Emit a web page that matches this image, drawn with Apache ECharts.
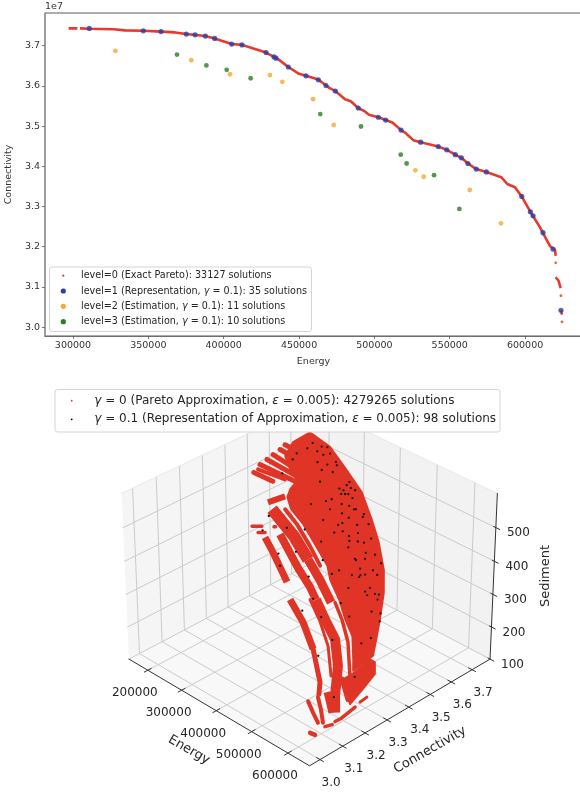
<!DOCTYPE html>
<html><head><meta charset="utf-8">
<style>html,body{margin:0;padding:0;background:#fff}#c{width:580px;height:793px}</style>
<script src="https://cdn.jsdelivr.net/npm/echarts@6/dist/echarts.min.js"></script>
</head><body><div id="c"></div>
<script>
// ---------- top panel data (Energy, Connectivity x 1e7) ----------
const energyTicks=[300000,350000,400000,450000,500000,550000,600000];
const connectivityTicks=[3.0,3.1,3.2,3.3,3.4,3.5,3.6,3.7];
const level0Curve=[[297100,3.743],[302900,3.743],null,[304600,3.743],[310800,3.742],[326800,3.741],[334500,3.738],[346700,3.737],[358400,3.735],[367700,3.733],[375200,3.729],[387800,3.724],[394000,3.718],[405300,3.704],[412100,3.702],[419700,3.693],[428100,3.683],[436300,3.666],[442900,3.647],[449500,3.631],[454600,3.625],[462800,3.616],[467900,3.601],[470100,3.595],[474100,3.587],[480500,3.567],[484300,3.562],[489300,3.545],[493100,3.538],[496400,3.528],[502600,3.522],[507500,3.515],[511900,3.509],[517700,3.490],[520300,3.484],[525800,3.465],[530700,3.460],[542400,3.449],[548000,3.441],[553700,3.429],[557700,3.421],[562100,3.407],[567600,3.393],[574300,3.386],[584200,3.373],[588200,3.356],[593300,3.348],[597700,3.325],[603500,3.287],[609900,3.248],[614300,3.217],[616500,3.202],[619900,3.192],[620300,3.177],null,[620300,3.124],[622100,3.116],[623600,3.097],null,[623800,3.042],[624500,3.031]];
const level0Isolated=[[620300,3.160],[623800,3.078],[624500,3.013]];
const level1=[[310800,3.743],[346650,3.737],[358400,3.735],[375200,3.729],[381000,3.727],[387800,3.724],[394000,3.718],[405300,3.704],[412150,3.702],[428100,3.683],[433400,3.672],[434700,3.669],[442900,3.647],[454600,3.625],[462800,3.615],[467900,3.601],[474100,3.587],[489300,3.545],[502600,3.522],[507500,3.515],[517700,3.490],[530700,3.460],[542400,3.449],[548000,3.441],[553700,3.429],[557700,3.421],[562100,3.407],[567600,3.393],[574300,3.386],[597800,3.325],[603500,3.287],[605300,3.277],[611900,3.235],[618500,3.194],[623800,3.042]];
const level2=[[328100,3.687],[378500,3.664],[404200,3.629],[430700,3.627],[438900,3.610],[459300,3.567],[473000,3.503],[527200,3.390],[532700,3.374],[563300,3.341],[584000,3.258]];
const level3=[[369000,3.678],[388500,3.651],[402000,3.640],[417900,3.619],[464100,3.530],[491100,3.499],[517500,3.429],[521400,3.407],[539600,3.378],[556400,3.294]];

// ---------- bottom panel data (Energy, Connectivity x 1e7, Sediment) ----------
const energyTicks3d=[200000,300000,400000,500000,600000];
const connectivityTicks3d=[3.0,3.1,3.2,3.3,3.4,3.5,3.6,3.7];
const sedimentTicks3d=[100,200,300,400,500];
const mainSheet=[[227100,3.654,600],[273900,3.671,575],[320600,3.664,539],[374900,3.653,497],[421600,3.622,451],[459100,3.592,413],[498600,3.550,367],[525500,3.505,329],[550900,3.445,285],[566300,3.406,258],[583800,3.359,226],[573400,3.285,202],[559600,3.308,221],[531700,3.350,258],[502400,3.366,285],[470900,3.390,318],[435200,3.408,350],[414000,3.429,374],[375500,3.441,406],[330400,3.455,443],[295200,3.457,468],[274900,3.472,489],[269400,3.494,502],[268300,3.528,517],[244900,3.533,536],[220700,3.549,559],[215100,3.595,583]];
const lowerLobe=[[568900,3.248,189],[575700,3.282,198],[583100,3.346,221],[593400,3.352,216],[607200,3.329,197],[607900,3.274,173],[607400,3.216,148],[585500,3.230,169]];
const stripeCap=[[254200,3.418,480],[270900,3.469,490]];
const stripeThick=[[268300,3.414,468],[332400,3.411,423],[353100,3.405,406],[380100,3.398,384]];
const stripeMedium=[[380100,3.398,384],[421200,3.385,350],[463200,3.367,313]];
const stripeFine=[[468800,3.376,313],[498200,3.359,285],[533100,3.329,248],[575000,3.269,194]];
const stripeFineFoot=[[567500,3.246,189],[598800,3.221,156]];
const stripeInner=[[286700,3.444,468],[322000,3.441,443],[367100,3.428,406],[404200,3.413,374]];
const stripeOuter=[[292800,3.343,421],[322500,3.332,396],[377500,3.307,347]];
const stripeMiddle=[[310300,3.383,426],[339800,3.372,401],[375800,3.359,370],[415400,3.349,339],[438800,3.338,318]];
const stripeBroad=[[438800,3.338,318],[474600,3.321,285],[511600,3.306,253],[547000,3.261,210],[577500,3.198,161],[596100,3.168,135]];
const stripeFringe=[[430500,3.325,318],[470000,3.306,282],[510100,3.277,242],[548900,3.227,194]];
const stripeLowA=[[402600,3.280,318],[447600,3.266,281],[492700,3.238,237]];
const stripeLowB=[[492700,3.238,237],[540700,3.191,184],[553200,3.166,165]];
const hatch1=[[197600,3.444,531],[235500,3.470,516]];
const hatch2=[[196300,3.474,544],[266700,3.521,516]];
const hatch3=[[200100,3.500,553],[263400,3.536,524]];
const hatch4=[[202500,3.524,561],[261600,3.552,532]];
const hatch5=[[206300,3.550,570],[254900,3.577,548]];
const hatch6=[[207300,3.571,578],[248000,3.597,561]];
const hatch7=[[199500,3.460,536],[250000,3.502,519]];
const piece1=[[261000,3.335,440],[275100,3.357,440]];
const piece2=[[277000,3.337,429],[286700,3.353,429]];
const piece3=[[292000,3.385,438],[294000,3.389,438]];
const foot1=[[546300,3.129,153],[566000,3.119,135],[584500,3.111,119]];
const foot2=[[555400,3.158,160],[573500,3.142,140],[591300,3.122,119]];
const foot3=[[562000,3.188,168],[591900,3.161,135]];
const toe1=[[585100,3.075,103],[594200,3.082,100]];
const toe2=[[598600,3.119,113],[605900,3.139,116]];
const toe3=[[606500,3.151,121],[611200,3.170,126]];
const streak1=[[611500,3.174,127],[617700,3.222,144]];
const streak2=[[618600,3.242,152],[622400,3.267,160]];
const representation3d=[[244700,3.638,581],[243600,3.615,572],[261700,3.652,575],[270400,3.664,574],[261500,3.632,567],[234600,3.581,563],[274400,3.639,561],[282400,3.657,563],[236600,3.559,553],[274900,3.611,548],[301000,3.654,549],[291900,3.629,544],[306400,3.649,543],[290800,3.605,535],[308900,3.626,531],[238900,3.508,529],[302500,3.578,515],[344400,3.645,514],[338200,3.609,503],[344700,3.632,509],[345900,3.615,500],[353900,3.636,504],[362400,3.642,500],[347500,3.602,494],[353100,3.611,494],[357800,3.618,494],[368200,3.620,487],[340400,3.570,485],[334800,3.553,482],[317400,3.513,477],[360500,3.583,477],[373300,3.597,474],[350100,3.546,468],[386600,3.606,468],[384600,3.601,468],[403900,3.614,460],[371800,3.566,461],[405700,3.606,455],[386900,3.572,454],[272300,3.393,457],[354100,3.509,450],[422500,3.605,443],[380700,3.534,442],[384300,3.547,445],[407300,3.577,442],[312200,3.411,437],[339000,3.449,434],[280900,3.351,433],[384400,3.510,429],[394600,3.532,431],[418400,3.563,428],[443400,3.582,419],[409100,3.537,423],[376700,3.462,414],[415600,3.528,415],[428000,3.546,414],[438100,3.558,412],[421800,3.513,404],[331300,3.342,394],[353900,3.385,397],[468100,3.559,392],[452600,3.542,395],[444600,3.506,385],[448000,3.505,383],[401400,3.430,383],[458600,3.529,385],[486700,3.556,378],[348300,3.322,374],[463700,3.498,369],[483500,3.524,366],[430200,3.424,360],[436400,3.447,366],[459700,3.467,358],[471400,3.487,358],[477600,3.498,359],[494700,3.525,358],[401400,3.366,356],[472000,3.480,355],[470300,3.434,337],[500200,3.483,337],[497500,3.465,331],[514100,3.483,327],[520400,3.490,326],[505200,3.462,325],[524500,3.477,318],[433600,3.334,319],[477000,3.388,312],[433000,3.286,300],[530000,3.441,298],[544700,3.457,295],[504900,3.381,290],[466700,3.317,289],[552800,3.440,282],[508800,3.298,252],[552700,3.357,246],[559800,3.388,255],[507700,3.237,226],[581900,3.279,192],[576900,3.194,160]];
const energyRange3d=[143300,658200], connectivityRange3d=[2.954,3.7875], sedimentRange3d=[100,600];

// ---------- text ----------
const FONT='"DejaVu Sans"';
const topLegend=[
 {text:'level=0 (Exact Pareto): 33127 solutions',color:'#e63a2e',r:1.1},
 {text:'level=1 (Representation, {i|γ} = 0.1): 35 solutions',color:'#2c3fa3',r:2.6},
 {text:'level=2 (Estimation, {i|γ} = 0.1): 11 solutions',color:'#f5a833',r:2.6},
 {text:'level=3 (Estimation, {i|γ} = 0.1): 10 solutions',color:'#2b7d20',r:2.6}];
const bottomLegend=[
 {text:'{i|γ} = 0 (Pareto Approximation, {i|ε} = 0.005): 4279265 solutions',color:'#e03526',r:0.9},
 {text:'{i|γ} = 0.1 (Representation of Approximation, {i|ε} = 0.005): 98 solutions',color:'#000',r:0.9}];

// ---------- 3D projection (elevation 32, azimuth -45, perspective distance 10) ----------
const SIN=Math.sin(32*Math.PI/180), COS=Math.cos(32*Math.PI/180), R2=Math.SQRT2;
function project(E,C,S){
  const u=(E-energyRange3d[0])/(energyRange3d[1]-energyRange3d[0])-.5;
  const v=(C-connectivityRange3d[0])/(connectivityRange3d[1]-connectivityRange3d[0])-.5;
  const w=((S-sedimentRange3d[0])/(sedimentRange3d[1]-sedimentRange3d[0])-.5)*.75;
  const a=(u-v)/R2, s=(u+v)/R2, sy=-SIN*a+COS*w, t=COS*a+SIN*w, f=10/(10-t);
  return [309.5+260.4*f*s, 577.9-260.4*f*sy];
}
const [E0,E1]=energyRange3d,[C0,C1]=connectivityRange3d,[S0,S1]=sedimentRange3d;
const GRID='#cbcbcb', RED3D='#e03526';
function poly(pts,fill){return {type:'polygon',shape:{points:pts.map(p=>project(...p))},style:{fill:fill,stroke:fill===RED3D?RED3D:'none',lineWidth:fill===RED3D?1.5:0,lineJoin:'round'}};}
function line(pts,color,width){return {type:'polyline',shape:{points:pts.map(p=>project(...p))},style:{stroke:color,lineWidth:width,fill:null,lineCap:width>=6?'butt':'round',lineJoin:'round'}};}

// back panes, gridlines
const frame=[
 poly([[E0,C0,S0],[E0,C1,S0],[E0,C1,S1],[E0,C0,S1]],'#f5f5f5'),
 poly([[E0,C1,S0],[E1,C1,S0],[E1,C1,S1],[E0,C1,S1]],'#f2f2f2'),
 poly([[E0,C0,S0],[E1,C0,S0],[E1,C1,S0],[E0,C1,S0]],'#f8f8f8')];
energyTicks3d.forEach(e=>{frame.push(line([[e,C0,S0],[e,C1,S0],[e,C1,S1]],GRID,1));});
connectivityTicks3d.forEach(c=>{frame.push(line([[E1,c,S0],[E0,c,S0],[E0,c,S1]],GRID,1));});
sedimentTicks3d.forEach(z=>{frame.push(line([[E0,C0,z],[E0,C1,z],[E1,C1,z]],GRID,1));});
[[[E0,C0,S1],[E0,C1,S1],[E1,C1,S1]]].forEach(l=>frame.push(line(l,'#e8e8e8',1)));
// axis lines, ticks
const AX='#333';
const axes=[line([[E0,C0,S0],[E1,C0,S0],[E1,C1,S0],[E1,C1,S1]],AX,1)];
const dC=(C1-C0)*.018, dE=(E1-E0)*.018;
energyTicks3d.forEach(e=>axes.push(line([[e,C0-dC,S0],[e,C0+dC,S0]],AX,1)));
connectivityTicks3d.forEach(c=>axes.push(line([[E1-dE,c,S0],[E1+dE,c,S0]],AX,1)));
sedimentTicks3d.forEach(z=>axes.push(line([[E1-dE*.6,C1,z],[E1+dE*1.1,C1,z]],AX,1)));
function label(text,x,y,rot,size,align){return {type:'text',x:x,y:y,rotation:rot||0,style:{text:text,fill:'#262626',font:(size||12)+'px '+FONT,align:align||'center',verticalAlign:'middle'}};}
const labels3d=[];
energyTicks3d.forEach(e=>{const p=project(e,C0,S0);labels3d.push(label(String(e),p[0]-13,p[1]+23));});
connectivityTicks3d.forEach(c=>{const p=project(E1,c,S0);labels3d.push(label(c.toFixed(1),p[0]+11,p[1]+23));});
sedimentTicks3d.forEach(z=>{const p=project(E1,C1,z);labels3d.push(label(String(z),p[0]+22.5,p[1]+5.5));});
labels3d.push(label('Energy',189,750,-30*Math.PI/180,13));
labels3d.push(label('Connectivity',430,750,30*Math.PI/180,13));
labels3d.push(label('Sediment',546,576,Math.PI/2,13));

const redParts=[
 poly(mainSheet,RED3D),poly(lowerLobe,RED3D),
 line(stripeCap,RED3D,6),line(stripeThick,RED3D,12),line(stripeMedium,RED3D,9),line(stripeFine,RED3D,3.5),line(stripeFineFoot,RED3D,5),
 line(stripeInner,RED3D,4),line(stripeOuter,RED3D,7),line(stripeMiddle,RED3D,8),line(stripeBroad,RED3D,10),line(stripeFringe,RED3D,3),
 line(stripeLowA,RED3D,7),line(stripeLowB,RED3D,5),
 line(hatch1,RED3D,5),line(hatch2,RED3D,5),line(hatch3,RED3D,5),line(hatch4,RED3D,5),line(hatch5,RED3D,5),line(hatch6,RED3D,5),line(hatch7,RED3D,4),
 line(piece1,RED3D,3.5),line(piece2,RED3D,3.5),line(piece3,RED3D,3.5),
 line(foot1,RED3D,4),line(foot2,RED3D,4),line(foot3,RED3D,7),
 line(toe1,RED3D,4.5),line(toe2,RED3D,3.5),line(toe3,RED3D,3.5),line(streak1,RED3D,3.5),line(streak2,RED3D,3)];

function layer(name,items,z){
  return {type:'custom',name:name,coordinateSystem:'none',silent:true,animation:false,z:z,
    data:items.map((_,i)=>[i]),renderItem:(p)=>items[p.dataIndex]};
}
function legendBox(x,y,w,h,rows,tx,mx,size,rowsY){
  const out=[{type:'rect',shape:{x:x,y:y,width:w,height:h,r:2.5},style:{fill:'rgba(255,255,255,0.85)',stroke:'#d4d4d4',lineWidth:1},z:50}];
  rows.forEach((r,i)=>{
    out.push({type:'circle',shape:{cx:mx,cy:rowsY[i],r:r.r},style:{fill:r.color},z:51});
    out.push({type:'text',x:tx,y:rowsY[i],z:51,style:{text:r.text,fill:'#262626',font:size+'px '+FONT,align:'left',verticalAlign:'middle',
      rich:{i:{fontStyle:'italic',fontFamily:'DejaVu Sans',fontSize:size,fill:'#262626'}}}});
  });
  return out;
}
const axisCommon={axisLine:{show:true,onZero:false,lineStyle:{color:'#6e6e6e',width:1}},axisTick:{show:true,length:3,lineStyle:{color:'#555',width:0.8}},splitLine:{show:false}};
const chart=echarts.init(document.getElementById('c'),null,{renderer:'canvas'});
chart.setOption({
  animation:false,backgroundColor:'#fff',
  grid:{left:45,top:13,width:537,height:323,outerBoundsMode:'none',containLabel:false,show:true,borderColor:'#5a5a5a',borderWidth:1,backgroundColor:'transparent'},
  xAxis:{type:'value',min:281420,max:637770,...axisCommon,
    axisTick:{...axisCommon.axisTick,customValues:energyTicks},
    axisLabel:{customValues:energyTicks,formatter:v=>String(v),fontFamily:FONT,fontSize:9.5,color:'#333',margin:5},
    name:'Energy',nameLocation:'middle',nameGap:21,nameTextStyle:{fontFamily:FONT,fontSize:9.5,color:'#333'}},
  yAxis:{type:'value',min:2.9779,max:3.7813,...axisCommon,
    axisLine:{show:true,onZero:false,lineStyle:{color:'#9a9a9a',width:1.5}},
    axisTick:{...axisCommon.axisTick,customValues:connectivityTicks},
    axisLabel:{customValues:connectivityTicks,formatter:v=>v.toFixed(1),fontFamily:FONT,fontSize:9.5,color:'#333',margin:5},
    name:'Connectivity',nameLocation:'middle',nameGap:23,nameTextStyle:{fontFamily:FONT,fontSize:9.5,color:'#333'}},
  series:[
    {type:'line',name:'level=0',data:level0Curve,showSymbol:false,symbol:'none',connectNulls:false,lineStyle:{color:'#e63a2e',width:2.6,cap:'butt'},z:2,silent:true},
    {type:'scatter',name:'level=0 isolated',data:level0Isolated,symbolSize:2.8,itemStyle:{color:'#e63a2e'},z:2,silent:true},
    {type:'scatter',name:'level=1',data:level1,symbolSize:5.2,itemStyle:{color:'#2c3fa3'},z:3,silent:true},
    {type:'scatter',name:'level=2',data:level2,symbolSize:4.8,itemStyle:{color:'#f5a833'},z:3,silent:true},
    {type:'scatter',name:'level=3',data:level3,symbolSize:4.8,itemStyle:{color:'#2b7d20'},z:3,silent:true},
    layer('frame',frame,10),
    layer('axes',axes,11),
    layer('labels3d',labels3d,12),
    layer('pareto3d',redParts,13),
    {type:'custom',name:'representation',coordinateSystem:'none',silent:true,animation:false,z:14,
      data:representation3d,dimensions:['energy','connectivity','sediment'],
      renderItem:(p,api)=>{const q=project(api.value(0),api.value(1),api.value(2));
        return {type:'circle',shape:{cx:q[0],cy:q[1],r:1.15},style:{fill:'#111'}};}}
  ],
  graphic:{elements:[
    {type:'text',x:45,y:7,z:20,style:{text:'1e7',fill:'#333',font:'9.5px '+FONT,align:'left',verticalAlign:'middle'}},
    ...legendBox(49.5,267,262,64.5,topLegend,81,63.3,9.6,[275.7,291,306.3,321.7]),
    ...legendBox(55,389.5,445,42.5,bottomLegend,94.3,71.7,12,[400.7,419.3])
  ]}
});
</script></body></html>
